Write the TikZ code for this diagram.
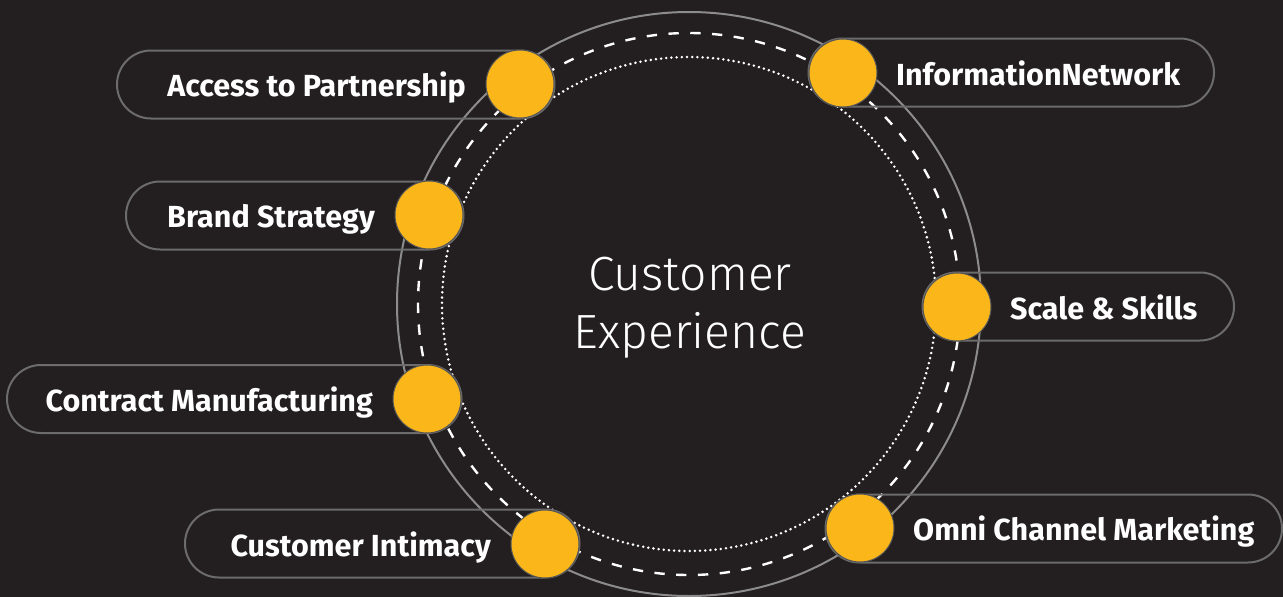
\documentclass[tikz,border=0pt]{standalone}
\usepackage{fontspec}
\usepackage{tikz}
\usetikzlibrary{calc}
\usetikzlibrary{positioning}

\newfontfamily\labelfont{Fira Sans}
\newfontfamily\titlefont{Fira Sans Light}

\definecolor{bgdark}{RGB}{35,31,32}
\definecolor{dotyellow}{RGB}{251,183,25}
\definecolor{dotedge}{RGB}{85,85,85}
\definecolor{pillgray}{RGB}{108,108,108}
\definecolor{ringgray}{RGB}{140,140,140}

\tikzset{
  ring/.style={draw=ringgray, line width=2pt},
  dashring/.style={draw=white, line width=2.4pt, dash pattern=on 10.3pt off 11.5pt},
  dotring/.style={draw=white, line width=2.8pt, line cap=round, dash pattern=on 0pt off 5.2pt},
  pill/.style={draw=pillgray, line width=2pt, minimum height=68pt, rounded corners=34pt, inner sep=0pt},
  dot/.style={circle, fill=dotyellow, draw=dotedge, line width=1pt, minimum size=68pt, inner sep=0pt},
  lbl/.style={text=white, inner sep=0pt, font=\labelfont\bfseries\fontsize{30.5}{37}\selectfont},
}

\begin{document}
\begin{tikzpicture}[x=1pt, y=-1pt]
      \fill [bgdark] (0,0) rectangle (1283,597);
      \useasboundingbox (0,0) rectangle (1283,597);

      \coordinate (ctr) at (689,304);
      \draw [ring] (ctr) circle [radius=292pt];
      \draw [dashring] (ctr) circle [radius=271pt];
      \draw [dotring] (ctr) circle [radius=247pt];

      % pills
      \node [pill, minimum width=437.5pt] (accpill) at (335.75,84.5) {};
      \node [pill, minimum width=337.5pt] (brandpill) at (294.75,215.5) {};
      \node [pill, minimum width=454.5pt] (contpill) at (234.25,399) {};
      \node [pill, minimum width=394.5pt] (intpill) at (382.25,543.5) {};
      \node [pill, minimum width=405.5pt] (infopill) at (1011.25,72.5) {};
      \node [pill, minimum width=311.5pt] (scalepill) at (1078.25,306.5) {};
      \node [pill, minimum width=456.5pt] (omnipill) at (1053.75,528.5) {};

      % dots
      \node [dot] (accdot) at (520,84) {};
      \node [dot] (branddot) at (429,215) {};
      \node [dot] (contdot) at (427,399) {};
      \node [dot] (intdot) at (545,544) {};
      \node [dot] (infodot) at (843,73) {};
      \node [dot] (scaledot) at (957,307) {};
      \node [dot] (omnidot) at (860,528) {};

      % labels
      \node [lbl, anchor=base east] (acctxt) at ([xshift=-54pt,yshift=-12pt]accdot.center) {Access to Partnership};
      \node [lbl, anchor=base east] (brandtxt) at ([xshift=-54pt,yshift=-12pt]branddot.center) {Brand Strategy};
      \node [lbl, anchor=base east] (conttxt) at ([xshift=-54pt,yshift=-12pt]contdot.center) {Contract Manufacturing};
      \node [lbl, anchor=base east] (inttxt) at ([xshift=-54pt,yshift=-12pt]intdot.center) {Customer Intimacy};
      \node [lbl, anchor=base west] (infotxt) at ([xshift=53pt,yshift=-12pt]infodot.center) {InformationNetwork};
      \node [lbl, anchor=base west] (scaletxt) at ([xshift=53pt,yshift=-12pt]scaledot.center) {Scale \& Skills};
      \node [lbl, anchor=base west] (omnitxt) at ([xshift=53pt,yshift=-12pt]omnidot.center) {Omni Channel Marketing};

      \node [text=white, inner sep=0pt, align=center, anchor=north,
        font=\titlefont\fontsize{48}{58}\selectfont] (title) at (690,257)
      {Customer\\Experience};
    \end{tikzpicture}
\end{document}
